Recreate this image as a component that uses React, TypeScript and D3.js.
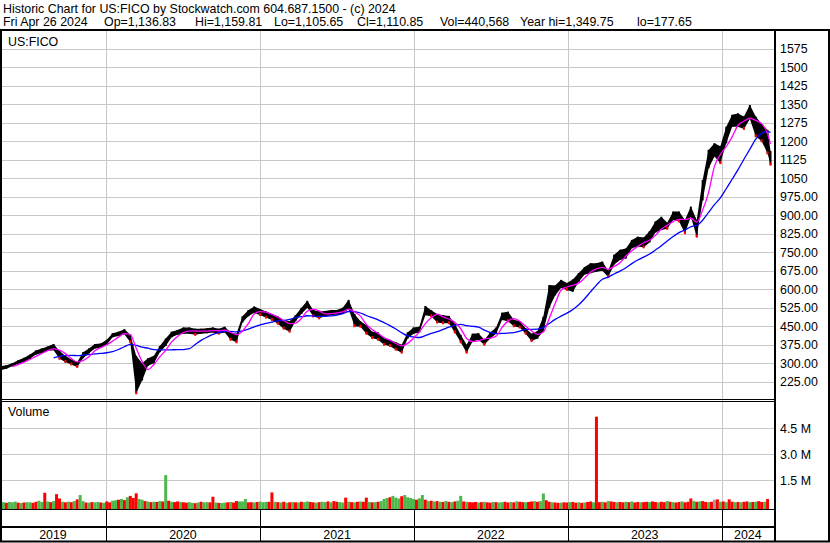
import React from "react";
import * as d3 from "d3";

const W = 830;
const H = 543;

// biweekly samples (every 14 days from 2019-04-26, last = 2024-04-26)
const priceLow = [
  272, 278, 288, 298, 305, 318, 335, 340, 350, 353, 318, 305, 295, 285, 320, 340, 360, 362, 375, 405,
  410, 418, 385, 178, 230, 290, 300, 345, 370, 405, 415, 420, 420, 415, 420, 422, 425, 420, 425, 395,
  385, 465, 490, 505, 495, 485, 475, 460, 440, 428, 470, 500, 525, 490, 482, 490, 495, 498, 500, 520,
  450, 448, 420, 402, 395, 375, 370, 355, 343, 400, 420, 425, 495, 490, 465, 462, 462, 425, 385, 343,
  388, 395, 375, 400, 420, 475, 470, 450, 445, 420, 390, 400, 430, 525, 575, 605, 597, 590, 630, 660,
  665, 671, 675, 650, 700, 719, 725, 766, 773, 770, 790, 830, 840, 845, 881, 875, 827, 894, 813, 960,
  1090, 1138, 1111, 1192, 1259, 1259, 1250, 1290, 1220, 1200, 1151, 1105,
];
const priceHigh = [
  288, 292, 300, 312, 322, 335, 352, 360, 368, 378, 350, 330, 315, 305, 345, 360, 378, 380, 395, 422,
  428, 438, 415, 330, 300, 320, 330, 370, 400, 428, 435, 445, 445, 440, 440, 442, 445, 440, 448, 425,
  420, 490, 515, 530, 520, 510, 500, 490, 475, 470, 495, 525, 553, 516, 510, 512, 516, 516, 525, 557,
  500, 470, 455, 428, 425, 400, 395, 385, 375, 425, 445, 448, 532, 515, 500, 495, 492, 460, 415, 375,
  420, 422, 395, 425, 445, 505, 509, 476, 470, 442, 420, 430, 489, 617, 615, 638, 625, 640, 666, 690,
  705, 705, 712, 675, 740, 760, 765, 800, 813, 810, 835, 875, 894, 870, 915, 915, 881, 935, 881, 1043,
  1165, 1192, 1180, 1259, 1307, 1313, 1300, 1347, 1300, 1270, 1246, 1160,
];

// weekly volume, thousands of shares
const volumeK = [
  260, 240, 200, 250, 230, 270, 210, 190, 220, 240,
  230, 200, 260, 320, 250, 780, 280, 240, 300, 700,
  450, 260, 230, 270, 240, 300, 400, 650, 300, 220,
  210, 240, 230, 250, 220, 200, 280, 230, 320, 350,
  380, 420, 360, 520, 600, 480, 750, 420, 380, 300,
  270, 240, 260, 250, 300, 280, 1800, 320, 260, 240,
  280, 250, 230, 210, 240, 200, 180, 220, 260, 230,
  240, 230, 550, 220, 200, 190, 210, 230, 250, 220,
  300, 280, 280, 420, 230, 240, 220, 250, 270, 240,
  250, 260, 800, 260, 240, 220, 260, 210, 230, 250,
  230, 220, 260, 240, 280, 250, 230, 210, 240, 260,
  250, 280, 230, 300, 260, 240, 220, 500, 270, 240,
  230, 260, 280, 260, 500, 250, 230, 240, 260, 300,
  420, 480, 520, 600, 500, 450, 580, 650, 520, 480,
  420, 380, 460, 650, 380, 300, 320, 280, 300, 260,
  250, 300, 260, 240, 280, 320, 600, 280, 260, 240,
  230, 250, 220, 240, 260, 230, 210, 250, 240, 220,
  240, 260, 220, 250, 230, 280, 260, 240, 230, 250,
  280, 300, 260, 300, 740, 350, 260, 230, 220, 200,
  210, 230, 220, 240, 250, 210, 230, 200, 220, 250,
  280, 230, 5170, 240, 260, 230, 300, 280, 250, 230,
  250, 230, 260, 240, 280, 220, 250, 230, 240, 260,
  240, 280, 250, 230, 260, 240, 300, 260, 240, 220,
  250, 280, 230, 260, 450, 300, 260, 280, 300, 250,
  240, 260, 380, 400, 260, 280, 240, 400, 260, 240,
  250, 230, 260, 280, 240, 250, 260, 300, 250, 260, 420,
];
const volumeDir =
  "RGRGGGRGRG" + "GRRGGRGRGR" + "RGRGRGRGGR" + "GRGGRGRRGG" + "RGRGRRRGGR" +
  "GRGRGRGRGR" + "RGRRGGRGRG" + "GRRGRGGRGR" + "RGGGRRGRGG" + "GRRGRGRGRG" +
  "RGRGGRRGRG" + "GRGRRGGRGR" + "GRGRRGRGRG" + "GGRGGGRGGG" + "GRGGRGRGRG" +
  "RGRGRGGRGR" + "RRGRGRRGRG" + "GRRGRGRRGR" + "RGRGGRRGRR" + "GRRGRRGRGR" +
  "RGRRGRGRRG" + "RRGRGRRGRR" + "GRRGRRGRGR" + "RGRRRGRGRR" + "GRNRGRGRRG" +
  "RGRRGRGRRGR";

const priceTicks = [225, 300, 375, 450, 525, 600, 675, 750, 825, 900, 975, 1050, 1125, 1200, 1275, 1350, 1425, 1500, 1575];
const volumeTicks = [1.5, 3.0, 4.5];
const yearLabels = ["2019", "2020", "2021", "2022", "2023", "2024"];

const headerLine1 = "Historic Chart for US:FICO by Stockwatch.com 604.687.1500 - (c) 2024";
const headerItems = [
  "Fri Apr 26 2024",
  "Op=1,136.83",
  "Hi=1,159.81",
  "Lo=1,105.65",
  "Cl=1,110.85",
  "Vol=440,568",
  "Year hi=1,349.75",
  "lo=177.65",
];
const headerItemX = [3, 104, 195, 274, 357, 440, 520, 637];

const START = new Date(2019, 3, 26);
const END = new Date(2024, 3, 26);

const FONT = "'Liberation Sans', Arial, sans-serif";

export default function App() {
  const plotL = 1;
  const plotR = 774;
  const mainTop = 31;
  const mainBot = 399;
  const volBot = 509;

  const x = d3.scaleTime().domain([START, END]).range([0.5, 770.5]);
  const y = d3.scaleLinear().domain([155, 1647]).range([mainBot, mainTop]);
  const yv = d3.scaleLinear().domain([0, 6.075e6]).range([506.3, 401]);

  const n = priceHigh.length;
  const dates = priceHigh.map((_, i) => (i === n - 1 ? END : d3.timeDay.offset(START, 14 * i)));
  const mids = priceHigh.map((h, i) => (h + priceLow[i]) / 2);
  const sma = (k: number) =>
    mids.map((_, i) => (i < k - 1 ? null : (d3.mean(mids.slice(i - k + 1, i + 1)) as number)));
  const maFast = sma(3);
  const maSlow = sma(10);

  const lineGen = d3
    .line<number | null>()
    .defined((d) => d != null)
    .x((_, i) => x(dates[i]))
    .y((d) => y(d as number))
    .curve(d3.curveMonotoneX);

  const band = d3
    .area<number>()
    .x((_, i) => x(dates[i]))
    .y0((_, i) => y(priceLow[i]))
    .y1((d) => y(d))
    .curve(d3.curveLinear);

  const yearStarts = [2020, 2021, 2022, 2023, 2024].map((yr) => x(new Date(yr, 0, 1)));
  const bounds = [0, ...yearStarts, plotR];

  const volDates = volumeK.map((_, j) => d3.timeDay.offset(START, 7 * j));
  const colorOf = (c: string) => (c === "G" ? "#4CB84C" : c === "N" ? "#A0A0A0" : "#FF0000");

  const fmtPrice = (v: number) => (v >= 1000 ? String(v) : v.toFixed(2));

  return (
    <svg width={W} height={H} style={{ position: "absolute", left: 0, top: 0, fontFamily: FONT }}>
      <rect x={0} y={0} width={W} height={H} fill="#fff" />
      {/* header */}
      <text x={3} y={12.5} fontSize={12.4} fill="#000">{headerLine1}</text>
      {headerItems.map((t, i) => (
        <text key={"h" + i} x={headerItemX[i]} y={26} fontSize={12.4} fill="#000">{t}</text>
      ))}

      {/* gridlines main */}
      {priceTicks.map((t) => (
        <line key={"pg" + t} x1={plotL} x2={plotR} y1={Math.round(y(t)) + 0.5} y2={Math.round(y(t)) + 0.5} stroke="#C8C8C8" />
      ))}
      {yearStarts.map((xx, i) => (
        <line key={"vg" + i} x1={Math.round(xx) + 0.5} x2={Math.round(xx) + 0.5} y1={mainTop} y2={volBot} stroke="#C8C8C8" />
      ))}
      {volumeTicks.map((t) => (
        <line key={"vgl" + t} x1={plotL} x2={plotR} y1={Math.round(yv(t * 1e6)) + 0.5} y2={Math.round(yv(t * 1e6)) + 0.5} stroke="#C8C8C8" />
      ))}

      <text x={8} y={46} fontSize={12.4} fill="#000">US:FICO</text>
      <text x={8} y={416} fontSize={12.4} fill="#000">Volume</text>

      {/* price band */}
      <path d={band(priceHigh) || ""} fill="#000" />
      {priceHigh.map((h, i) => (
        <line
          key={"pb" + i}
          x1={x(dates[i])}
          x2={x(dates[i])}
          y1={y(h)}
          y2={y(priceLow[i])}
          stroke="#000"
          strokeWidth={2}
        />
      ))}
      {mids.map((m, i) =>
        i > 0 && m < mids[i - 1] ? (
          <rect key={"rd" + i} x={x(dates[i]) - 1} y={y(priceLow[i]) - 2} width={2} height={3} fill="#FF0000" />
        ) : null
      )}
      <path d={lineGen(maSlow) || ""} fill="none" stroke="#0000FF" strokeWidth={1.3} />
      <path d={lineGen(maFast) || ""} fill="none" stroke="#FF00FF" strokeWidth={1.3} />

      {/* volume bars */}
      {volumeK.map((v, j) => {
        const xx = x(volDates[j]);
        const top = yv(v * 1000);
        return (
          <rect key={"v" + j} x={xx - 1.5} y={top} width={3} height={volBot - top} fill={colorOf(volumeDir[j])} />
        );
      })}

      {/* frame */}
      <line x1={0} x2={W} y1={30} y2={30} stroke="#000" strokeWidth={2} />
      <line x1={1} x2={1} y1={30} y2={542} stroke="#000" strokeWidth={2} />
      <line x1={829} x2={829} y1={30} y2={542} stroke="#000" strokeWidth={2} />
      <line x1={0} x2={W} y1={541.5} y2={541.5} stroke="#000" strokeWidth={2} />
      <line x1={775} x2={775} y1={30} y2={542} stroke="#000" strokeWidth={2} />
      <line x1={0} x2={775} y1={399.5} y2={399.5} stroke="#000" strokeWidth={1} />
      <line x1={0} x2={775} y1={401.5} y2={401.5} stroke="#000" strokeWidth={1} />
      <line x1={0} x2={775} y1={509.5} y2={509.5} stroke="#000" strokeWidth={1} />
      <line x1={0} x2={775} y1={527} y2={527} stroke="#000" strokeWidth={2} />
      {yearStarts.map((xx, i) => (
        <line key={"ys" + i} x1={Math.round(xx) + 0.5} x2={Math.round(xx) + 0.5} y1={510} y2={541} stroke="#000" />
      ))}

      {/* axis labels */}
      {priceTicks.map((t) => (
        <text key={"pt" + t} x={780} y={y(t)} dy="0.35em" fontSize={12.4} fill="#000">
          {fmtPrice(t)}
        </text>
      ))}
      {volumeTicks.map((t) => (
        <text key={"vt" + t} x={780} y={yv(t * 1e6)} dy="0.35em" fontSize={12.4} fill="#000">
          {t.toFixed(1) + " M"}
        </text>
      ))}
      {yearLabels.map((lab, i) => (
        <text
          key={"yl" + lab}
          x={(bounds[i] + bounds[i + 1]) / 2}
          y={535}
          dy="0.35em"
          textAnchor="middle"
          fontSize={12.4}
          fill="#000"
        >
          {lab}
        </text>
      ))}
    </svg>
  );
}
